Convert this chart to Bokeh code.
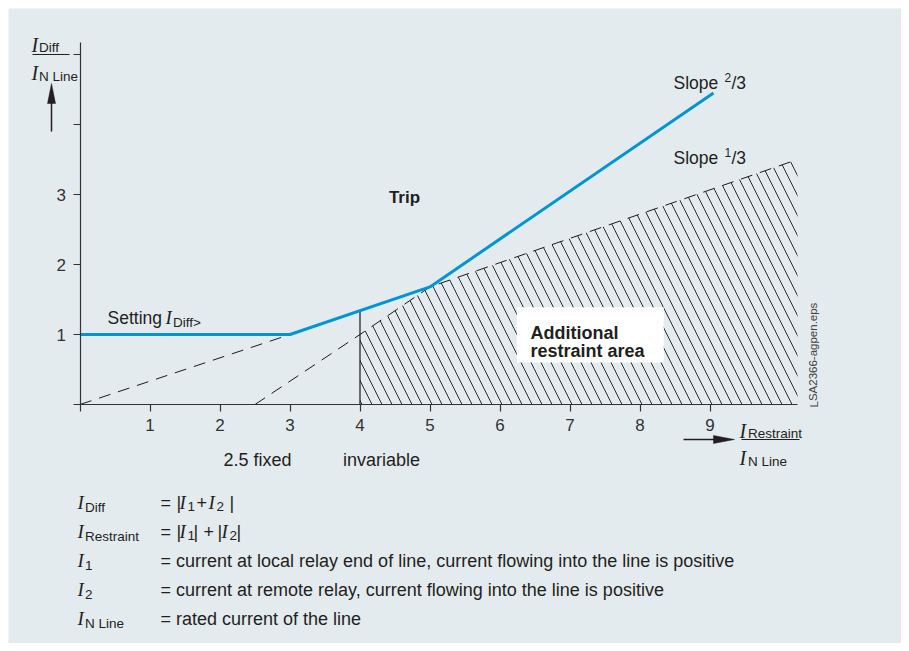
from bokeh.plotting import figure
from bokeh.models import LinearAxis, FixedTicker, Range1d
from bokeh.core.properties import value
from bokeh.embed import file_html
from bokeh.resources import INLINE

# ---------------- data ----------------
x_ticks = [0, 1, 2, 3, 4, 5, 6, 7, 8, 9]
x_tick_labels = ["", "1", "2", "3", "4", "5", "6", "7", "8", "9"]
y_ticks = [0, 1, 2, 3, 4, 5]
y_tick_labels = ["", "1", "2", "3", "", ""]
x_axis_bounds = (0, 10.25)
y_axis_bounds = (0, 5.17)

# tripping characteristic (blue)
trip_x = [0, 3, 5, 9.05]
trip_y = [1.0, 1.0, 1.68, 4.45]
# dashed helper line "2.5 fixed" (slope 1/3 through origin)
fixed_x = [0, 3]
fixed_y = [0, 1.0]
# restraint boundary (dashed), starting at 2.5
restraint_x = [2.5, 4, 5, 10.25]
restraint_y = [0, 1.0, 1.68, 3.5]
# additional restraint area (hatched)
area_x = [4, 4, 5, 10.25, 10.25]
area_y = [0, 1.0, 1.68, 3.5, 0]
# vertical line at 4 ("invariable")
inv_x = [4, 4]
inv_y = [0, 1.34]
# white label box of the restraint area
box_left, box_right, box_bottom, box_top = 6.24, 8.34, 0.60, 1.39

legend_symbols = ["Diff", "Restraint", "1", "2", "N Line"]
legend_texts = [None, None,
                "= current at local relay end of line, current flowing into the line is positive",
                "= current at remote relay, current flowing into the line is positive",
                "= rated current of the line"]

# ---------------- style ----------------
BG = "#e4ebef"
BLUE = "#0096d6"
TXT = "#231f20"
AX = "#333333"
SANS = "Liberation Sans"
SERIF = "Liberation Serif"

W, H = 893, 635
OFF = 8
X0, Y0, S = 79.5, 404.0, 70.0   # page pixel of data origin, pixels per unit


def dx(px):
    return (px - X0) / S


def dy(py):
    return (Y0 - py) / S


p = figure(width=W, height=H,
           x_range=Range1d(dx(OFF), dx(OFF + W)),
           y_range=Range1d(dy(OFF + H), dy(OFF)),
           x_axis_type=None, y_axis_type=None,
           output_backend="svg", toolbar_location=None, min_border=0)
p.margin = (OFF, OFF, OFF, OFF)
p.background_fill_color = BG
p.border_fill_color = BG
p.outline_line_color = None


def style_axis(ax, labels, ticks, size):
    ax.ticker = FixedTicker(ticks=ticks)
    ax.major_label_overrides = {t: l for t, l in zip(ticks, labels)}
    ax.axis_line_color = AX
    ax.axis_line_width = 1.2
    ax.major_tick_line_color = AX
    ax.major_tick_line_width = 1.2
    ax.major_tick_in = 0
    ax.major_tick_out = 7
    ax.minor_tick_line_color = None
    ax.major_label_text_font = SANS
    ax.major_label_text_font_size = size
    ax.major_label_text_color = "#333333"


xa = LinearAxis(fixed_location=0, bounds=x_axis_bounds)
style_axis(xa, x_tick_labels, x_ticks, "17px")
xa.major_label_standoff = 7
p.add_layout(xa, "below")

ya = LinearAxis(fixed_location=0, bounds=y_axis_bounds)
style_axis(ya, y_tick_labels, y_ticks, "17px")
ya.major_label_standoff = 7
ya.major_label_orientation = "horizontal"
p.add_layout(ya, "left")

# hatched area
p.patch(area_x, area_y, fill_color=None, line_color=None,
        hatch_pattern="\\", hatch_scale=20, hatch_weight=1, hatch_color="#2a2a2a")
# dashed lines
p.line(fixed_x, fixed_y, line_color="#1a1a1a", line_width=1, line_dash="12 8")
p.line(restraint_x, restraint_y, line_color="#1a1a1a", line_width=1, line_dash="12 8")
# vertical line
p.line(inv_x, inv_y, line_color="#1a1a1a", line_width=1.2)
# characteristic
p.line(trip_x, trip_y, line_color=BLUE, line_width=3)
# white box
p.quad(left=[box_left], right=[box_right], bottom=[box_bottom], top=[box_top],
       fill_color="white", line_color=None)


def txt(xp, yp, s, size, font=SANS, style="normal", align="left",
        baseline="alphabetic", color=TXT, angle=0.0):
    p.text(x=[dx(xp)], y=[dy(yp)], text=[s], text_font=value(font),
           text_font_size=size, text_font_style=style, text_align=align,
           text_baseline=baseline, text_color=color, angle=angle)


def sym(xp, yp, sub, sub_dx=7.5, sub_dy=4, size="19px"):
    txt(xp, yp, "I", size, font=SERIF, style="italic")
    txt(xp + sub_dx, yp + sub_dy, sub, "13.5px")


def hline(x1, x2, yp, w=1.2):
    p.line([dx(x1), dx(x2)], [dy(yp), dy(yp)], line_color=TXT, line_width=w)


def arrow(x1, y1, x2, y2, hx, hy):
    # shaft (x1,y1)->(x2,y2); head triangle points given in page px
    p.line([dx(x1), dx(x2)], [dy(y1), dy(y2)], line_color=TXT, line_width=1.5)
    p.patch([dx(v) for v in hx], [dy(v) for v in hy], fill_color=TXT, line_color=TXT, line_width=0.5)


# y axis title
sym(31, 44, "Diff", sub_dy=3, size="20px")
hline(32, 69, 54)
sym(31, 72, "N Line", sub_dy=4, size="20px")
arrow(51, 131, 51, 100, [47, 51, 55], [103, 83, 103])

# x axis title
sym(739, 430, "Restraint", sub_dy=3, sub_dx=8.5, size="20px")
hline(741, 799, 439)
sym(739, 457, "N Line", sub_dy=4, sub_dx=8.5, size="20px")
arrow(683, 439, 716, 439, [713, 734, 713], [435, 439, 443])

# in-chart texts
txt(404, 197, "Trip", "17px", style="bold", align="center")
txt(673, 82, "Slope", "17.5px")
txt(724, 77, "2", "12px")
txt(731, 82, "/3", "17.5px")
txt(673, 157, "Slope", "17.5px")
txt(724, 152, "1", "12px")
txt(731, 157, "/3", "17.5px")
txt(107, 317, "Setting", "17.5px")
sym(165, 317, "Diff>", sub_dy=5)
txt(257, 459, "2.5 fixed", "18px", align="center")
txt(381, 459, "invariable", "18px", align="center")
txt(530, 332, "Additional", "18px", style="bold")
txt(530, 350, "restraint area", "18px", style="bold")
txt(813, 407, "LSA2366-agpen.eps", "11.5px", color="#444444", angle=1.5708)

# legend
rows = [502, 531, 560, 589, 618]
for yb, sub, t in zip(rows, legend_symbols, legend_texts):
    sym(77, yb, sub, sub_dy=5)
    if t is not None:
        txt(160, yb, t, "18px")

# row 1: = |I1 + I2|
y1 = rows[0]
txt(160, y1, "=", "18px")
txt(176, y1, "|", "18px")
sym(179, y1, "1", sub_dx=8)
txt(196, y1, "+", "18px")
sym(208, y1, "2", sub_dx=8)
txt(229, y1, "|", "18px")
# row 2: = |I1| + |I2|
y2 = rows[1]
txt(160, y2, "=", "18px")
txt(176, y2, "|", "18px")
sym(179, y2, "1", sub_dx=8)
txt(193, y2, "|", "18px")
txt(203, y2, "+", "18px")
txt(217, y2, "|", "18px")
sym(221, y2, "2", sub_dx=8)
txt(236, y2, "|", "18px")

open("out.html", "w").write(file_html(p, INLINE))
